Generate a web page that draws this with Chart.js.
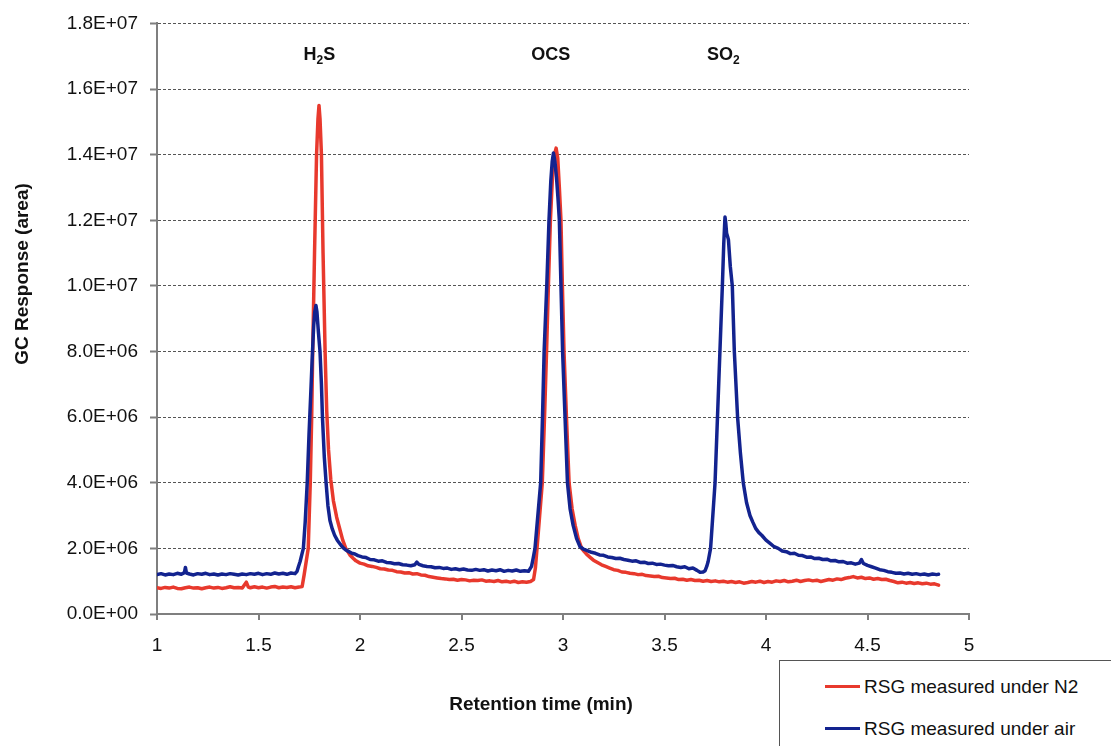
<html>
  <head>
    <script src="https://cdn.jsdelivr.net/npm/chart.js"></script>
    <style>
      body { margin: 0; background: #fff; }
      #wrap { position: relative; width: 1111px; height: 746px; overflow: hidden; font-family: 'Liberation Sans', Arial, sans-serif; }
      #legend { position: absolute; left: 779px; top: 660px; width: 360px; height: 110px; border: 1px solid #555; background: #fff; }
      .item { position: absolute; left: 45px; height: 22px; line-height: 22px; font-size: 19px; color: #111; white-space: nowrap; }
      .swatch { display: inline-block; width: 35px; height: 3px; vertical-align: middle; margin-right: 4px; position: relative; top: -1px; }
    </style>
    <script>
// retention time (min) and GC response (x 1E+06)
const n2Time = [1.00, 1.02, 1.04, 1.06, 1.08, 1.10, 1.12, 1.14, 1.16, 1.18, 1.20, 1.22, 1.24, 1.26, 1.28, 1.30, 1.32, 1.34, 1.36, 1.38,
  1.40, 1.42, 1.44, 1.45, 1.46, 1.48, 1.50, 1.52, 1.54, 1.56, 1.58, 1.60, 1.62, 1.64, 1.66, 1.68, 1.70, 1.715,
  1.725, 1.735, 1.745, 1.755, 1.762, 1.767, 1.776, 1.786, 1.793, 1.798, 1.803, 1.81, 1.818, 1.828, 1.836, 1.845, 1.856, 1.869, 1.885, 1.90,
  1.915, 1.93, 1.95, 1.966, 1.98, 2.00,
  2.02, 2.04, 2.06, 2.08, 2.10, 2.12, 2.14, 2.16, 2.18, 2.20, 2.22, 2.24, 2.26, 2.28, 2.30, 2.32, 2.34, 2.36, 2.38, 2.40,
  2.42, 2.44, 2.46, 2.48, 2.50, 2.52, 2.54, 2.56, 2.58, 2.60, 2.62, 2.64, 2.66, 2.68, 2.70, 2.72, 2.74, 2.76, 2.78, 2.80,
  2.82, 2.84, 2.855,
  2.864, 2.872, 2.885, 2.898, 2.909, 2.919, 2.928, 2.938, 2.948, 2.958, 2.966, 2.974, 2.982, 2.99, 2.997, 3.005, 3.017, 3.03, 3.045, 3.06,
  3.075, 3.092, 3.105, 3.12, 3.135, 3.15,
  3.17, 3.19, 3.21, 3.23, 3.25, 3.27, 3.29, 3.31, 3.33, 3.35, 3.37, 3.39, 3.41, 3.43, 3.45, 3.47, 3.49, 3.51, 3.53, 3.55,
  3.57, 3.59, 3.61, 3.63, 3.65, 3.67, 3.69, 3.71, 3.73, 3.75, 3.77, 3.79, 3.81, 3.83, 3.85, 3.87, 3.89, 3.91, 3.93, 3.95,
  3.97, 3.99, 4.01, 4.03, 4.05, 4.07, 4.09, 4.11, 4.13, 4.15, 4.17, 4.19, 4.21, 4.23, 4.25, 4.27, 4.29, 4.31, 4.33, 4.35,
  4.37, 4.39, 4.41, 4.43, 4.45, 4.47, 4.49, 4.51, 4.53, 4.55, 4.57, 4.59, 4.61, 4.63, 4.65, 4.67, 4.69, 4.71, 4.73, 4.75,
  4.77, 4.79, 4.81, 4.83, 4.85];
const n2Resp = [0.80, 0.78, 0.81, 0.79, 0.82, 0.78, 0.77, 0.80, 0.82, 0.79, 0.80, 0.77, 0.80, 0.82, 0.79, 0.81, 0.78, 0.80, 0.83, 0.80,
  0.81, 0.79, 0.97, 0.82, 0.80, 0.83, 0.80, 0.82, 0.79, 0.82, 0.84, 0.80, 0.82, 0.81, 0.83, 0.80, 0.82, 0.84,
  1.2, 1.6, 2.0, 4.0, 6.0, 8.0, 11.0, 14.0, 15.1, 15.5, 15.1, 14.0, 11.0, 8.0, 6.2, 5.0, 4.1, 3.45, 2.95, 2.6,
  2.25, 2.0, 1.8, 1.70, 1.62, 1.55,
  1.52, 1.47, 1.45, 1.42, 1.38, 1.37, 1.34, 1.33, 1.29, 1.28, 1.25, 1.26, 1.22, 1.23, 1.19, 1.18, 1.14, 1.12, 1.10, 1.08,
  1.07, 1.05, 1.06, 1.03, 1.05, 1.04, 1.01, 1.03, 1.02, 1.04, 1.00, 1.01, 0.99, 1.02, 0.98, 1.00, 0.97, 1.00, 0.96, 0.98,
  0.97, 0.99, 1.05,
  1.4, 2.0, 3.0, 4.0, 6.0, 8.0, 10.0, 12.0, 13.3, 14.0, 14.2, 13.9, 13.0, 12.0, 10.0, 8.0, 6.0, 4.0, 3.2, 2.7,
  2.3, 2.0, 1.9, 1.8, 1.72, 1.64,
  1.57, 1.50, 1.45, 1.40, 1.35, 1.33, 1.28, 1.27, 1.24, 1.23, 1.20, 1.21, 1.17, 1.16, 1.14, 1.15, 1.11, 1.10, 1.08, 1.09,
  1.05, 1.06, 1.03, 1.05, 1.02, 1.03, 1.00, 1.02, 0.99, 1.01, 0.98, 1.00, 0.97, 0.99, 0.96, 0.98, 0.94, 0.96, 0.99, 0.97,
  1.00, 0.96, 0.99, 0.97, 1.01, 0.99, 1.02, 0.98, 1.00, 1.03, 0.99, 1.02, 1.04, 1.01, 1.03, 0.99, 1.02, 1.05, 1.03, 1.07,
  1.05, 1.09, 1.11, 1.14, 1.10, 1.12, 1.08, 1.10, 1.06, 1.08, 1.05, 1.06, 1.02, 0.99, 0.95, 0.97, 0.94, 0.96, 0.93, 0.95,
  0.92, 0.94, 0.91, 0.92, 0.88];

const airTime = [1.00, 1.02, 1.04, 1.06, 1.08, 1.10, 1.12, 1.135, 1.14, 1.145, 1.16, 1.18, 1.20, 1.22, 1.24, 1.26, 1.28, 1.30, 1.32, 1.34,
  1.36, 1.38, 1.40, 1.42, 1.44, 1.46, 1.48, 1.50, 1.52, 1.54, 1.56, 1.58, 1.60, 1.62, 1.64, 1.66, 1.68, 1.69,
  1.697, 1.705, 1.713, 1.721, 1.73, 1.74, 1.749, 1.758, 1.766, 1.772, 1.777, 1.783, 1.788, 1.795, 1.803, 1.81, 1.815, 1.824, 1.833, 1.842,
  1.852, 1.863, 1.875, 1.888, 1.90, 1.915, 1.93, 1.945, 1.96, 1.975, 1.99,
  2.01, 2.03, 2.05, 2.07, 2.09, 2.11, 2.13, 2.15, 2.17, 2.19, 2.21, 2.23, 2.25, 2.27, 2.28, 2.29, 2.31, 2.33, 2.35, 2.37,
  2.39, 2.41, 2.43, 2.45, 2.47, 2.49, 2.51, 2.53, 2.55, 2.57, 2.59, 2.61, 2.63, 2.65, 2.67, 2.69, 2.71, 2.73, 2.75, 2.77,
  2.79, 2.81, 2.83, 2.845,
  2.853, 2.862, 2.876, 2.89, 2.899, 2.907, 2.92, 2.931, 2.94, 2.947, 2.953, 2.96, 2.968, 2.975, 2.982, 2.99, 2.998, 3.01, 3.022, 3.035,
  3.05, 3.067, 3.084, 3.10, 3.12, 3.14,
  3.16, 3.18, 3.20, 3.22, 3.24, 3.26, 3.28, 3.30, 3.32, 3.34, 3.36, 3.38, 3.40, 3.42, 3.44, 3.46, 3.48, 3.50, 3.52, 3.54,
  3.56, 3.58, 3.60, 3.62, 3.64, 3.66, 3.675, 3.69, 3.70,
  3.708, 3.715, 3.727, 3.738, 3.749, 3.761, 3.773, 3.785, 3.792, 3.798, 3.802, 3.806, 3.811, 3.815, 3.824, 3.834, 3.844, 3.86, 3.874, 3.888,
  3.904, 3.921, 3.935, 3.95, 3.965, 3.979, 4.00, 4.02,
  4.04, 4.06, 4.08, 4.10, 4.12, 4.14, 4.16, 4.18, 4.20, 4.22, 4.24, 4.26, 4.28, 4.30, 4.32, 4.34, 4.36, 4.38, 4.40, 4.42,
  4.44, 4.46, 4.47, 4.48, 4.50, 4.52, 4.54, 4.56, 4.58, 4.60, 4.62, 4.64, 4.66, 4.68, 4.70, 4.72, 4.74, 4.76, 4.78, 4.80,
  4.82, 4.84, 4.85];
const airResp = [1.20, 1.23, 1.19, 1.22, 1.20, 1.24, 1.21, 1.26, 1.42, 1.25, 1.22, 1.19, 1.23, 1.21, 1.24, 1.20, 1.22, 1.19, 1.22, 1.20,
  1.23, 1.21, 1.19, 1.22, 1.20, 1.23, 1.21, 1.24, 1.20, 1.23, 1.21, 1.25, 1.22, 1.24, 1.21, 1.25, 1.23, 1.30,
  1.45, 1.6, 1.8, 2.0, 2.8, 4.0, 5.5, 6.8, 8.0, 8.8, 9.2, 9.4, 9.2, 8.6, 8.0, 7.0, 6.0, 4.8, 4.0, 3.3,
  2.85, 2.6, 2.4, 2.25, 2.15, 2.03, 1.95, 1.90, 1.85, 1.83, 1.78,
  1.74, 1.72, 1.66, 1.65, 1.61, 1.62, 1.57, 1.56, 1.53, 1.54, 1.50, 1.49, 1.47, 1.50, 1.58, 1.51, 1.47, 1.45, 1.44, 1.41,
  1.42, 1.39, 1.40, 1.36, 1.38, 1.35, 1.37, 1.34, 1.33, 1.36, 1.33, 1.35, 1.31, 1.34, 1.32, 1.35, 1.30, 1.33, 1.31, 1.34,
  1.30, 1.32, 1.30, 1.45,
  1.7, 2.0, 3.0, 4.0, 6.0, 8.0, 10.0, 12.0, 13.2, 13.8, 14.05, 13.8, 13.3, 12.7, 12.0, 10.0, 8.0, 6.0, 4.0, 3.2,
  2.7, 2.3, 2.05, 1.98, 1.93, 1.88,
  1.85, 1.80, 1.79, 1.74, 1.72, 1.69, 1.70, 1.66, 1.64, 1.61, 1.62, 1.57, 1.58, 1.54, 1.55, 1.51, 1.52, 1.49, 1.47, 1.48,
  1.44, 1.42, 1.44, 1.38, 1.40, 1.33, 1.27, 1.28, 1.32,
  1.45, 1.6, 2.0, 3.0, 4.0, 6.0, 8.0, 10.0, 11.3, 12.1, 11.9, 11.6, 11.5, 11.4, 10.6, 10.0, 8.0, 6.0, 4.9, 4.0,
  3.4, 3.0, 2.8, 2.6, 2.48, 2.4, 2.25, 2.15,
  2.05, 2.0, 1.92, 1.90, 1.84, 1.85, 1.79, 1.78, 1.73, 1.74, 1.69, 1.70, 1.66, 1.67, 1.62, 1.63, 1.59, 1.60, 1.55, 1.56,
  1.52, 1.55, 1.66, 1.54, 1.48, 1.44, 1.40, 1.35, 1.33, 1.29, 1.27, 1.24, 1.25, 1.22, 1.24, 1.21, 1.23, 1.20, 1.22, 1.19,
  1.22, 1.20, 1.21];
const respUnit = 1e6;

const seriesNames = ['RSG measured under N2', 'RSG measured under air'];
const seriesColors = ['#e8392d', '#13238f'];

const xTickValues = [1, 1.5, 2, 2.5, 3, 3.5, 4, 4.5, 5];
const yTickValues = [0, 2e6, 4e6, 6e6, 8e6, 1e7, 1.2e7, 1.4e7, 1.6e7, 1.8e7];

const peakNames = ['H2S', 'OCS', 'SO2'];
const peakTime = [1.80, 2.94, 3.79];
const peakLabelLevel = 1.705e7;

const xTitle = 'Retention time (min)';
const yTitle = 'GC Response (area)';

const FONT = "'Liberation Sans', Arial, sans-serif";

function sci(v) {
  // 1.8E+07 style like the spreadsheet
  if (v === 0) return '0.0E+00';
  let e = Math.floor(Math.log10(Math.abs(v)) + 1e-9);
  let m = v / Math.pow(10, e);
  let es = String(Math.abs(e)).padStart(2, '0');
  return m.toFixed(1) + 'E' + (e < 0 ? '-' : '+') + es;
}

function drawChem(ctx, name, cx, cy) {
  const big = 'bold 18px ' + FONT, small = 'bold 12px ' + FONT;
  let w = 0;
  for (const c of name) {
    ctx.font = /[0-9]/.test(c) ? small : big;
    w += ctx.measureText(c).width;
  }
  let x = cx - w / 2;
  for (const c of name) {
    const sub = /[0-9]/.test(c);
    ctx.font = sub ? small : big;
    ctx.fillText(c, x, sub ? cy + 6 : cy);
    x += ctx.measureText(c).width;
  }
}

const annot = {
  id: 'annot',
  afterDraw(chart) {
    const ctx = chart.ctx, xs = chart.scales.x, ys = chart.scales.y;
    ctx.save();
    ctx.fillStyle = '#111';
    ctx.textBaseline = 'middle';
    ctx.textAlign = 'left';
    for (let i = 0; i < peakNames.length; i++) {
      drawChem(ctx, peakNames[i], xs.getPixelForValue(peakTime[i]), ys.getPixelForValue(peakLabelLevel));
    }
    ctx.font = 'bold 19px ' + FONT;
    ctx.textAlign = 'center';
    ctx.fillText(xTitle, 541, 705);
    ctx.translate(23, 274);
    ctx.rotate(-Math.PI / 2);
    ctx.fillText(yTitle, 0, 0);
    ctx.restore();
  }
};

function toPoints(ts, vs) {
  return ts.map((t, i) => ({ x: t, y: vs[i] * respUnit }));
}

window.onload = function () {
  const data = {
    datasets: [{
      label: seriesNames[0],
      data: toPoints(n2Time, n2Resp),
      borderColor: seriesColors[0],
      order: 1
    }, {
      label: seriesNames[1],
      data: toPoints(airTime, airResp),
      borderColor: seriesColors[1],
      order: 0
    }]
  };

  const axisColor = '#7f7f7f';
  const config = {
    type: 'line',
    data: data,
    options: {
      responsive: false,
      animation: false,
      devicePixelRatio: 1,
      layout: { padding: { left: 0, top: 19, right: 142, bottom: 0 } },
      elements: {
        line: { borderWidth: 3.5, tension: 0, fill: false, borderJoinStyle: 'round', borderCapStyle: 'round' },
        point: { radius: 0 }
      },
      plugins: { legend: { display: false }, tooltip: { enabled: false } },
      scales: {
        x: {
          type: 'linear',
          min: 1, max: 5,
          afterBuildTicks: s => { s.ticks = xTickValues.map(v => ({ value: v })); },
          afterFit: s => { s.height = 132; },
          border: { display: true, color: axisColor, width: 2 },
          grid: { drawOnChartArea: false, drawTicks: true, tickLength: 6, color: axisColor, lineWidth: 2 },
          ticks: { padding: 14, color: '#111', font: { family: FONT, size: 19 }, maxRotation: 0,
                   callback: v => String(v) }
        },
        y: {
          type: 'linear',
          min: 0, max: 1.8e7,
          afterBuildTicks: s => { s.ticks = yTickValues.map(v => ({ value: v })); },
          afterFit: s => { s.width = 157; },
          // in v4 border.dash sets the dash of the grid lines
          border: { display: true, color: axisColor, width: 2, dash: [3, 2] },
          grid: { drawOnChartArea: true, drawTicks: true, tickLength: 7, color: '#555', lineWidth: 1,
                  tickColor: axisColor, tickWidth: 2, tickBorderDash: [] },
          ticks: { padding: 12, color: '#111', font: { family: FONT, size: 19 }, callback: v => sci(v) }
        }
      }
    },
    plugins: [annot]
  };

  new Chart(document.getElementById('myChart'), config);

  // legend box
  const lg = document.getElementById('legend');
  const tops = [15, 57];
  seriesNames.forEach((n, i) => {
    const d = document.createElement('div');
    d.className = 'item';
    d.style.top = tops[i] + 'px';
    d.innerHTML = '<span class="swatch" style="background:' + seriesColors[i] + '"></span>' + n;
    lg.appendChild(d);
  });
};
    </script>
  </head>
  <body>
    <div id="wrap">
      <canvas id="myChart" width="1111" height="746"></canvas>
      <div id="legend"></div>
    </div>
  </body>
</html>
